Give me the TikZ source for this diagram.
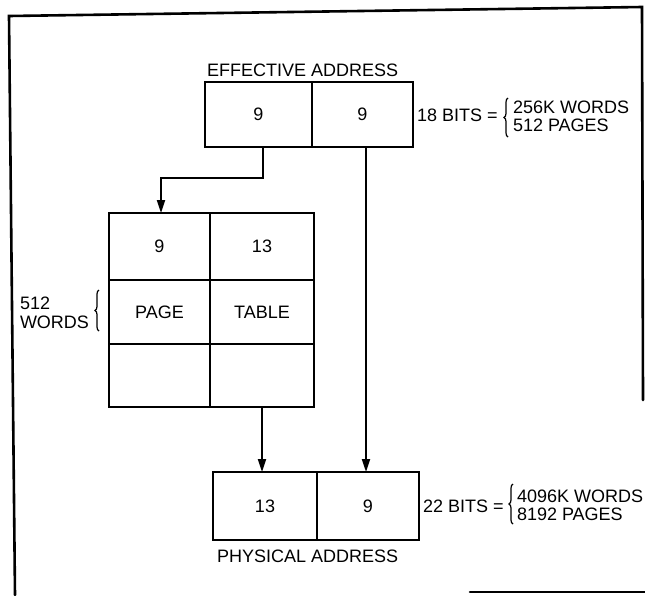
\documentclass[tikz,border=0pt]{standalone}
\usepackage{fontspec}
\setmainfont{Liberation Sans}
\usetikzlibrary{arrows.meta,decorations.pathreplacing}
\begin{document}
\begin{tikzpicture}[x=1pt,y=-1pt,
  cell/.style={draw,line width=2.6pt,inner sep=0pt,outer sep=0pt,anchor=north west,font=\fontsize{18}{18}\selectfont},
  lbl/.style={inner sep=0pt,outer sep=0pt,anchor=base west,font=\fontsize{18}{18}\selectfont},
  conn/.style={line width=2pt,-{Triangle[length=13pt,width=8pt]}},
  frameline/.style={line width=2.6pt,line cap=round},
  brc/.style={decorate,decoration={brace,amplitude=4pt},line width=1.2pt}]
\useasboundingbox (0,0) rectangle (645,595);
% frame
\draw[frameline] (15,595) -- (9,16) -- (642,7) -- (643,400);
\draw[frameline] (470,592) -- (645,592);
% effective address
\node[cell,minimum width=107pt,minimum height=65pt] (e1) at (205,82) {9};
\node[cell,minimum width=101pt,minimum height=65pt] (e2) at (312,82) {9};
\node[lbl] (ea) at (207,76) {EFFECTIVE ADDRESS};
\node[lbl] (b18) at (417,121) {18 BITS =};
\node[lbl] (w256) at (513,113) {256K WORDS};
\node[lbl] (p512) at (513,131) {512 PAGES};
\draw[brc] (508,137) -- (508,98);
% page table
\node[cell,minimum width=101pt,minimum height=67pt] (t11) at (109,213) {9};
\node[cell,minimum width=104pt,minimum height=67pt] (t12) at (210,213) {13};
\node[cell,minimum width=101pt,minimum height=64pt] (t21) at (109,280) {PAGE};
\node[cell,minimum width=104pt,minimum height=64pt] (t22) at (210,280) {TABLE};
\node[cell,minimum width=101pt,minimum height=63pt] (t31) at (109,344) {};
\node[cell,minimum width=104pt,minimum height=63pt] (t32) at (210,344) {};
\node[lbl] (n512) at (20,309) {512};
\node[lbl] (nw) at (20,328) {WORDS};
\draw[brc] (99,331) -- (99,290);
% physical address
\node[cell,minimum width=104pt,minimum height=68pt] (p1) at (213,472) {13};
\node[cell,minimum width=102pt,minimum height=68pt] (p2) at (317,472) {9};
\node[lbl] (pa) at (217,562) {PHYSICAL ADDRESS};
\node[lbl] (b22) at (423,512) {22 BITS =};
\node[lbl] (w4096) at (517,502) {4096K WORDS};
\node[lbl] (p8192) at (517,520) {8192 PAGES};
\draw[brc] (513,524) -- (513,484);
% connectors
\draw[conn] ([xshift=4.5pt]e1.south) -- ++(0,31) -| ([xshift=1.5pt]t11.north);
\draw[conn] ([xshift=3.5pt]e2.south) -- ([xshift=-2pt]p2.north);
\draw[conn] (t32.south) -- (t32.south |- p1.north);
\end{tikzpicture}
\end{document}
